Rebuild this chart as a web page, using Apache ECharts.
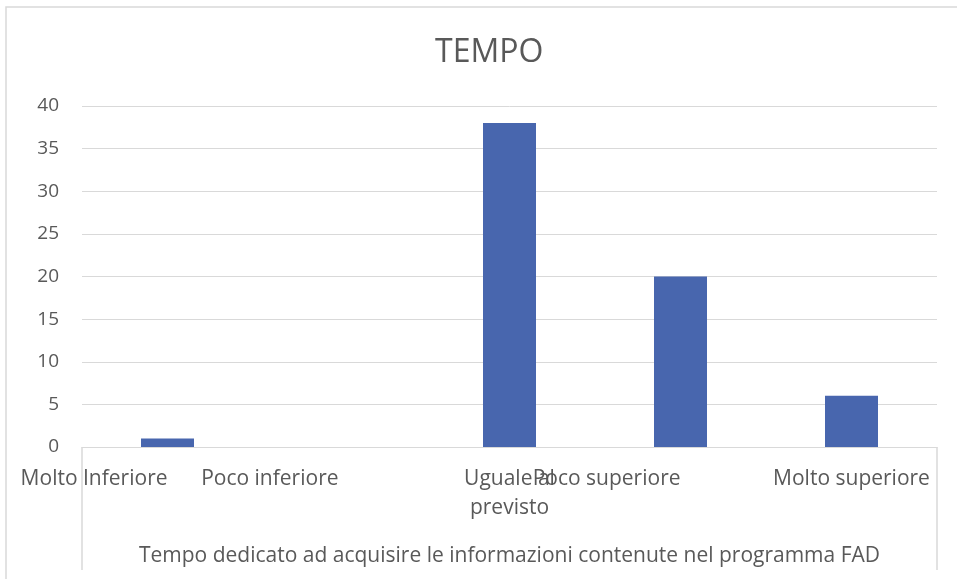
<!DOCTYPE html>
<html>
<head>
<meta charset="utf-8">
<title>TEMPO</title>
<script src="https://cdn.jsdelivr.net/npm/echarts@6/dist/echarts.min.js"></script>
<style>
  html, body { margin: 0; padding: 0; background: #fff; }
  #main { width: 957px; height: 579px; }
</style>
</head>
<body>
<div id="main"></div>
<script>
// dati del grafico
var categorie = ['Molto Inferiore', 'Poco inferiore', 'Uguale al\nprevisto', 'Poco superiore', 'Molto superiore'];
var valori = [1, 0, 38, 20, 6];
var allineamento = ['right', 'right', 'center', 'right', 'center'];
var titolo = 'TEMPO';
var nomeAsseX = 'Tempo dedicato ad acquisire le informazioni contenute nel programma FAD';

var font = '"Open Sans", "Noto Sans", sans-serif';
var grigio = '#d9d9d9';

var myChart = echarts.init(document.getElementById('main'));

// etichette con allineamento diverso come nel grafico originale
var datiAsse = [];
for (var i = 0; i < categorie.length; i++) {
    datiAsse.push({ value: categorie[i], textStyle: { align: allineamento[i] } });
}

var option = {
    backgroundColor: '#fff',
    animation: false,
    title: {
        text: titolo,
        left: 430,
        top: 32,
        textStyle: { fontFamily: font, fontSize: 32, fontWeight: 'normal', color: '#595959' }
    },
    grid: { left: 82, right: 20, top: 106, bottom: 132 },
    xAxis: {
        type: 'category',
        data: datiAsse,
        name: nomeAsseX,
        nameLocation: 'middle',
        nameGap: 99,
        nameTextStyle: { fontFamily: font, fontSize: 21, color: '#595959' },
        axisLine: { lineStyle: { color: grigio, width: 1 } },
        axisTick: { show: false },
        axisLabel: {
            interval: 0,
            margin: 18,
            fontFamily: font,
            fontSize: 21,
            color: '#595959',
            lineHeight: 29
        }
    },
    yAxis: {
        type: 'value',
        min: 0,
        max: 40,
        interval: 5,
        axisLine: { show: false },
        axisTick: { show: false },
        axisLabel: { margin: 23, fontFamily: font, fontSize: 19, color: '#595959' },
        splitLine: { lineStyle: { color: grigio, width: 1 } }
    },
    series: [{
        type: 'bar',
        data: valori,
        barWidth: 53,
        itemStyle: { color: '#4866ae' }
    }],
    graphic: [
        // bordo esterno
        { type: 'rect', shape: { x: 6, y: 7, width: 960, height: 580 }, style: { fill: null, stroke: grigio, lineWidth: 1.5 }, silent: true },
        // riquadro delle categorie
        { type: 'line', shape: { x1: 82, y1: 447, x2: 82, y2: 570 }, style: { stroke: grigio, lineWidth: 1.5 }, silent: true },
        { type: 'line', shape: { x1: 937, y1: 447, x2: 937, y2: 570 }, style: { stroke: grigio, lineWidth: 1.5 }, silent: true }
    ]
};
myChart.setOption(option);
</script>
</body>
</html>
